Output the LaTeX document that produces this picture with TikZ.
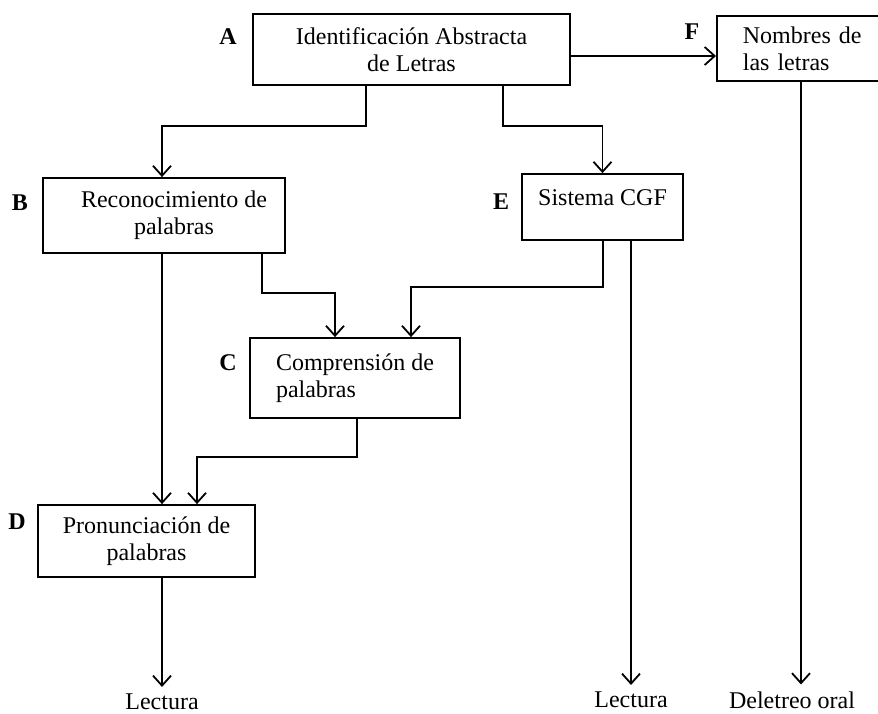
\documentclass[tikz,border=0pt]{standalone}
\usepackage{fontspec}
\setmainfont{Liberation Serif}
\usepackage{tikz}
\usetikzlibrary{arrows.meta}

\begin{document}
\begin{tikzpicture}[x=0.5pt, y=-0.5pt,
        every node/.style={font=\fontsize{12}{13.5}\selectfont},
        caja/.style={draw, line width=0.9pt, inner sep=0pt},
        letra/.style={font=\fontsize{12}{13.5}\selectfont\bfseries},
        flecha/.style={line width=0.9pt, -{Straight Barb[length=5pt, width=9pt]}}]
        \useasboundingbox (0,0) rectangle (878,713);
        % cajas
        \node[caja, align=center, minimum width=158.5pt, minimum height=35.5pt] (A) at (411.5,49.5) {Identificación Abstracta\\de Letras};
        \node[caja, align=left, anchor=west, inner xsep=13pt, text width=74pt, minimum height=32.5pt] (F) at (716,48.5) {Nombres de\\las letras};
        \node[caja, align=center, minimum width=121pt, minimum height=37.5pt] (B) at (164,215.5) {\hspace*{10pt}Reconocimiento de\\\hspace*{10pt}palabras};
        \node[caja, align=left, text depth=9pt, minimum width=80.5pt, minimum height=33pt] (E) at (602.5,207) {Sistema CGF};
        \node[caja, align=left, minimum width=105pt, minimum height=40pt] (C) at (355,378) {Comprensión de\\palabras};
        \node[caja, align=center, minimum width=108.5pt, minimum height=36pt] (D) at (146.5,541) {Pronunciación de\\palabras};
        % letras
        \foreach \l/\x/\y in {A/228/37, F/692/32, B/20/203, E/501/202, C/228/363, D/17/522}
            \node[letra] (let\l) at (\x,\y) {\l};
        % salidas
        \node (lect1) at (162,702) {Lectura};
        \node (lect2) at (631,700) {Lectura};
        \node (delet) at (792,700) {Deletreo oral};
        % conexiones
        \draw[flecha] (A.south -| 366,0) -- (366,126) -| (B.north -| 162,0);
        \draw[flecha] (A.south -| 503,0) -- (503,126) -| (E.north);
        \draw[flecha] (A.east |- 0,56) -- (F.west |- 0,56);
        \draw[flecha] (B.south -| 262,0) |- (335,293) -- (C.north -| 335,0);
        \draw[flecha] (E.south -| 603,0) |- (411,287) -- (C.north -| 411,0);
        \draw[flecha] (B.south -| 162,0) -- (D.north -| 162,0);
        \draw[flecha] (C.south -| 357,0) |- (197,457) -- (D.north -| 197,0);
        \draw[flecha] (D.south -| lect1.north) -- (lect1.north);
        \draw[flecha] (E.south -| lect2.north) -- (lect2.north);
        \draw[flecha] (F.south -| 801,0) -- (delet.north -| 801,0);
\end{tikzpicture}
\end{document}
